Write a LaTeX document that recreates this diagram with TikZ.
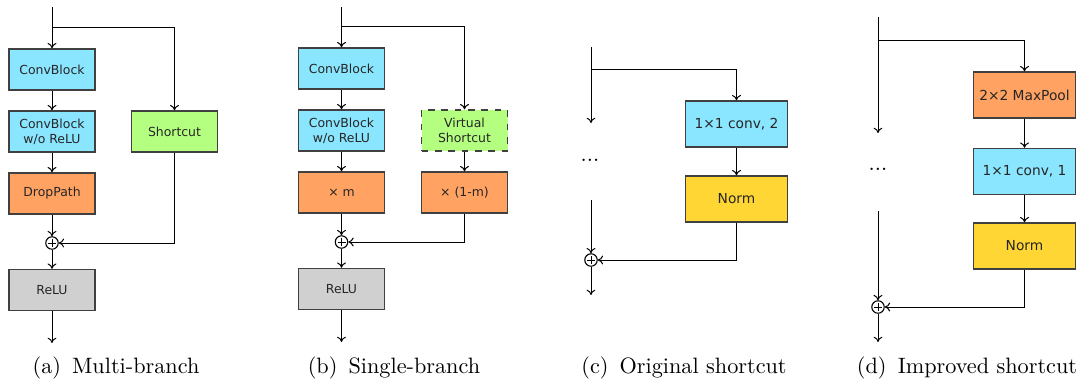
\documentclass[tikz,border=0pt]{standalone}
\usepackage{fontspec}
\newfontfamily\blockfont{DejaVu Sans}
\usepackage[dvipsnames,svgnames]{xcolor}
\usetikzlibrary{arrows.meta,positioning,calc}
\definecolor{convblue}{RGB}{138,229,255}
\definecolor{shortgreen}{RGB}{180,255,128}
\definecolor{droporange}{RGB}{255,162,98}
\definecolor{normyellow}{RGB}{255,214,51}
\definecolor{relugray}{RGB}{208,208,208}
\tikzset{
  block/.style={draw=black!75, line width=0.6pt, minimum width=38.7pt, minimum height=18.5pt,
    inner sep=1pt, align=center, text=black!85, font=\blockfont\fontsize{5.6}{6.8}\selectfont},
  bigblock/.style={block, minimum width=46pt, minimum height=20.7pt,
    font=\blockfont\fontsize{6.2}{7.5}\selectfont},
  addop/.style={draw, circle, minimum size=5.6pt, inner sep=0pt, line width=0.5pt,
    path picture={
      \draw[line width=0.45pt] ([xshift=-1.8pt]path picture bounding box.center) -- ([xshift=1.8pt]path picture bounding box.center);
      \draw[line width=0.45pt] ([yshift=-1.8pt]path picture bounding box.center) -- ([yshift=1.8pt]path picture bounding box.center);}},
  subcap/.style={font=\fontsize{10}{12}\selectfont}
}

\begin{document}
\begin{tikzpicture}[x=0.45pt,y=-0.45pt,>={To[length=2.4pt,width=4pt]},line width=0.45pt]
\useasboundingbox (0,0) rectangle (1081,380);

% (a) multi-branch block
\node[block,fill=convblue] (a-cb1) at (52,69.5) {ConvBlock};
\node[block,fill=convblue] (a-cb2) at (52,131.5) {ConvBlock\\w/o ReLU};
\node[block,fill=droporange] (a-dp) at (52,193.5) {DropPath};
\node[block,fill=shortgreen] (a-sc) at (174.5,131.5) {Shortcut};
\node[addop] (a-add) at (52,243) {};
\node[block,fill=relugray] (a-relu) at (52,290) {ReLU};
\coordinate (a-in) at (52,7);
\coordinate (a-split) at (52,27);
\coordinate (a-out) at (52,343);
\draw (a-in) -- (a-split);
\draw[->] (a-split) -- (a-cb1);
\draw[->] (a-split) -| (a-sc);
\draw[->] (a-cb1) -- (a-cb2);
\draw[->] (a-cb2) -- (a-dp);
\draw[->] (a-dp) -- (a-add);
\draw[->] (a-sc) |- (a-add);
\draw[->] (a-add) -- (a-relu);
\draw[->] (a-relu) -- (a-out);
\node[subcap] (a-cap) at (116,368) {(a)\enspace Multi-branch};

% (b) single-branch block
\node[block,fill=convblue] (b-cb1) at (341.5,68.5) {ConvBlock};
\node[block,fill=convblue] (b-cb2) at (341.5,130.5) {ConvBlock\\w/o ReLU};
\node[block,fill=droporange] (b-m) at (341.5,192.5) {× m};
\node[block,fill=shortgreen,dashed] (b-vs) at (464.5,130.5) {Virtual\\Shortcut};
\node[block,fill=droporange] (b-1m) at (464.5,192.5) {× (1-m)};
\node[addop] (b-add) at (341.5,242) {};
\node[block,fill=relugray] (b-relu) at (341.5,289) {ReLU};
\coordinate (b-in) at (341.5,7);
\coordinate (b-split) at (341.5,26);
\coordinate (b-out) at (341.5,342);
\draw (b-in) -- (b-split);
\draw[->] (b-split) -- (b-cb1);
\draw[->] (b-split) -| (b-vs);
\draw[->] (b-cb1) -- (b-cb2);
\draw[->] (b-cb2) -- (b-m);
\draw[->] (b-vs) -- (b-1m);
\draw[->] (b-m) -- (b-add);
\draw[->] (b-1m) |- (b-add);
\draw[->] (b-add) -- (b-relu);
\draw[->] (b-relu) -- (b-out);
\node[subcap] (b-cap) at (394,368) {(b)\enspace Single-branch};

% (c) original shortcut
\node[bigblock,fill=convblue] (c-conv) at (736.5,124) {1×1 conv, 2};
\node[bigblock,fill=normyellow] (c-norm) at (736.5,199) {Norm};
\node[addop] (c-add) at (591,260) {};
\node (c-dots) at (590,160) {...};
\coordinate (c-in) at (591,47);
\coordinate (c-split) at (591,69);
\coordinate (c-mid) at (591,123);
\coordinate (c-back) at (591,200);
\coordinate (c-out) at (591,295);
\draw[->] (c-in) -- (c-mid);
\draw[->] (c-split) -| (c-conv);
\draw[->] (c-conv) -- (c-norm);
\draw[->] (c-back) -- (c-add);
\draw[->] (c-norm) |- (c-add);
\draw[->] (c-add) -- (c-out);
\node[subcap] (c-cap) at (684,368) {(c)\enspace Original shortcut};

% (d) improved shortcut
\node[bigblock,fill=droporange] (d-pool) at (1024.5,95) {2×2 MaxPool};
\node[bigblock,fill=convblue] (d-conv) at (1024.5,171.5) {1×1 conv, 1};
\node[bigblock,fill=normyellow] (d-norm) at (1024.5,246) {Norm};
\node[addop] (d-add) at (878,307) {};
\node (d-dots) at (878,169) {...};
\coordinate (d-in) at (878,17);
\coordinate (d-split) at (878,40);
\coordinate (d-mid) at (878,133);
\coordinate (d-back) at (878,211);
\coordinate (d-out) at (878,342);
\draw[->] (d-in) -- (d-mid);
\draw[->] (d-split) -| (d-pool);
\draw[->] (d-pool) -- (d-conv);
\draw[->] (d-conv) -- (d-norm);
\draw[->] (d-back) -- (d-add);
\draw[->] (d-norm) |- (d-add);
\draw[->] (d-add) -- (d-out);
\node[subcap] (d-cap) at (967,368) {(d)\enspace Improved shortcut};
\end{tikzpicture}
\end{document}
